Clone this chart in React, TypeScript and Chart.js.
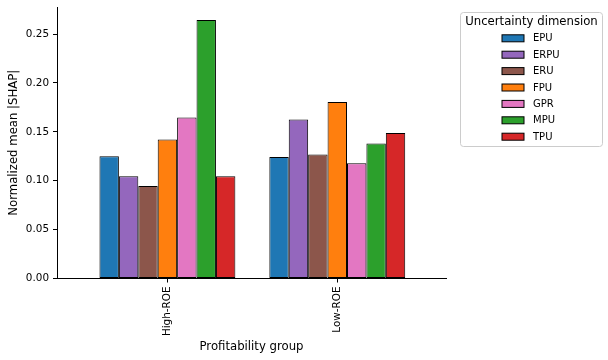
import React, { useEffect, useRef } from "react";
import { Chart, registerables } from "chart.js";

Chart.register(...registerables);

const categories = ["High-ROE", "Low-ROE"];
const seriesNames = ["EPU", "ERPU", "ERU", "FPU", "GPR", "MPU", "TPU"];
const seriesColors = ["#1f77b4", "#9467bd", "#8c564b", "#ff7f0e", "#e377c2", "#2ca02c", "#d62728"];
const EPU = [0.125, 0.1243];
const ERPU = [0.1045, 0.1626];
const ERU = [0.0945, 0.1268];
const FPU = [0.1421, 0.1805];
const GPR = [0.1646, 0.1178];
const MPU = [0.2643, 0.138];
const TPU = [0.1045, 0.1489];
const seriesValues = [EPU, ERPU, ERU, FPU, GPR, MPU, TPU];
const yTicks = [0, 0.05, 0.1, 0.15, 0.2, 0.25];
const yMax = 0.2777;
const legendTitle = "Uncertainty dimension";
const xTitle = "Profitability group";
const yTitle = "Normalized mean |SHAP|";

const FONT = "'DejaVu Sans', sans-serif";

const legendPlugin = {
  id: "mplLegend",
  afterDraw(chart: any) {
    const ctx = chart.ctx;
    const area = chart.chartArea;
    const left = area.right + 14;
    const top = 12.5;
    const w = 142;
    const h = 134;
    ctx.save();
    ctx.beginPath();
    if (ctx.roundRect) ctx.roundRect(left + 0.5, top, w, h, 3);
    else ctx.rect(left + 0.5, top, w, h);
    ctx.fillStyle = "rgba(255,255,255,0.8)";
    ctx.fill();
    ctx.strokeStyle = "#cccccc";
    ctx.lineWidth = 1;
    ctx.stroke();
    ctx.fillStyle = "#000";
    ctx.textBaseline = "middle";
    ctx.textAlign = "center";
    ctx.font = `11.7px ${FONT}`;
    ctx.fillText(legendTitle, left + w / 2 + 0.5, 22);
    ctx.textAlign = "left";
    ctx.font = `10px ${FONT}`;
    chart.data.datasets.forEach((ds: any, i: number) => {
      const cy = 38.3 + i * 16.4;
      ctx.fillStyle = ds.backgroundColor;
      ctx.fillRect(left + 42, cy - 3.5, 22, 7);
      ctx.strokeStyle = "#000";
      ctx.lineWidth = 1;
      ctx.strokeRect(left + 42, cy - 3.5, 22, 7);
      ctx.fillStyle = "#000";
      ctx.fillText(ds.label, left + 73, cy + 0.5);
    });
    ctx.restore();
  },
};

export default function App() {
  const ref = useRef<HTMLCanvasElement>(null);
  useEffect(() => {
    document.body.style.margin = "0";
    if (!ref.current) return;
    const chart = new Chart(ref.current, {
      type: "bar",
      data: {
        datasets: seriesNames.map((name, s) => ({
          label: name,
          data: seriesValues[s].map((v, i) => ({ x: i, y: v })),
          backgroundColor: seriesColors[s],
          borderColor: "#000",
          borderWidth: 1,
          borderSkipped: false,
          categoryPercentage: 0.8,
          barPercentage: 1.0,
        })),
      },
      plugins: [legendPlugin],
      options: {
        responsive: false,
        animation: false,
        color: "#000",
        layout: { padding: { top: 7, right: 162, left: 0, bottom: 0 } },
        plugins: { legend: { display: false }, tooltip: { enabled: false } },
        scales: {
          x: {
            type: "linear",
            offset: false,
            min: -0.65,
            max: 1.64,
            grid: { offset: false, drawOnChartArea: false, drawTicks: true, tickLength: 4, color: "#000" },
            border: { display: true, color: "#000", width: 1 },
            ticks: {
              includeBounds: false,
              autoSkip: false,
              maxRotation: 90,
              minRotation: 90,
              padding: 4,
              color: "#000",
              font: { family: FONT, size: 10.4 },
              callback: (v: any) => categories[v as number] ?? "",
            },
            afterBuildTicks: (scale: any) => {
              scale.ticks = categories.map((_, i) => ({ value: i }));
            },
            afterFit: (scale: any) => {
              scale.height = 81.5;
              scale.paddingLeft = 0;
              scale.paddingRight = 0;
            },
            title: {
              display: true,
              text: xTitle,
              color: "#000",
              font: { family: FONT, size: 11.7 },
              padding: { top: 0, bottom: 6.4 },
            },
          },
          y: {
            type: "linear",
            min: 0,
            max: yMax,
            grid: { drawOnChartArea: false, drawTicks: true, tickLength: 4, color: "#000" },
            border: { display: true, color: "#000", width: 1 },
            ticks: {
              includeBounds: false,
              padding: 4,
              color: "#000",
              font: { family: FONT, size: 10.4 },
              callback: (v: any) => Number(v).toFixed(2),
            },
            afterBuildTicks: (scale: any) => {
              scale.ticks = yTicks.map((v) => ({ value: v }));
            },
            afterFit: (scale: any) => {
              scale.width = 57;
              scale.paddingTop = 0;
              scale.paddingBottom = 0;
            },
            title: {
              display: true,
              text: yTitle,
              color: "#000",
              font: { family: FONT, size: 11.7 },
              padding: { top: 7.4, bottom: 0 },
            },
          },
        },
      },
    } as any);
    return () => chart.destroy();
  }, []);
  return (
    <div style={{ width: 608, height: 360 }}>
      <canvas ref={ref} width={608} height={360} style={{ display: "block" }} />
    </div>
  );
}
